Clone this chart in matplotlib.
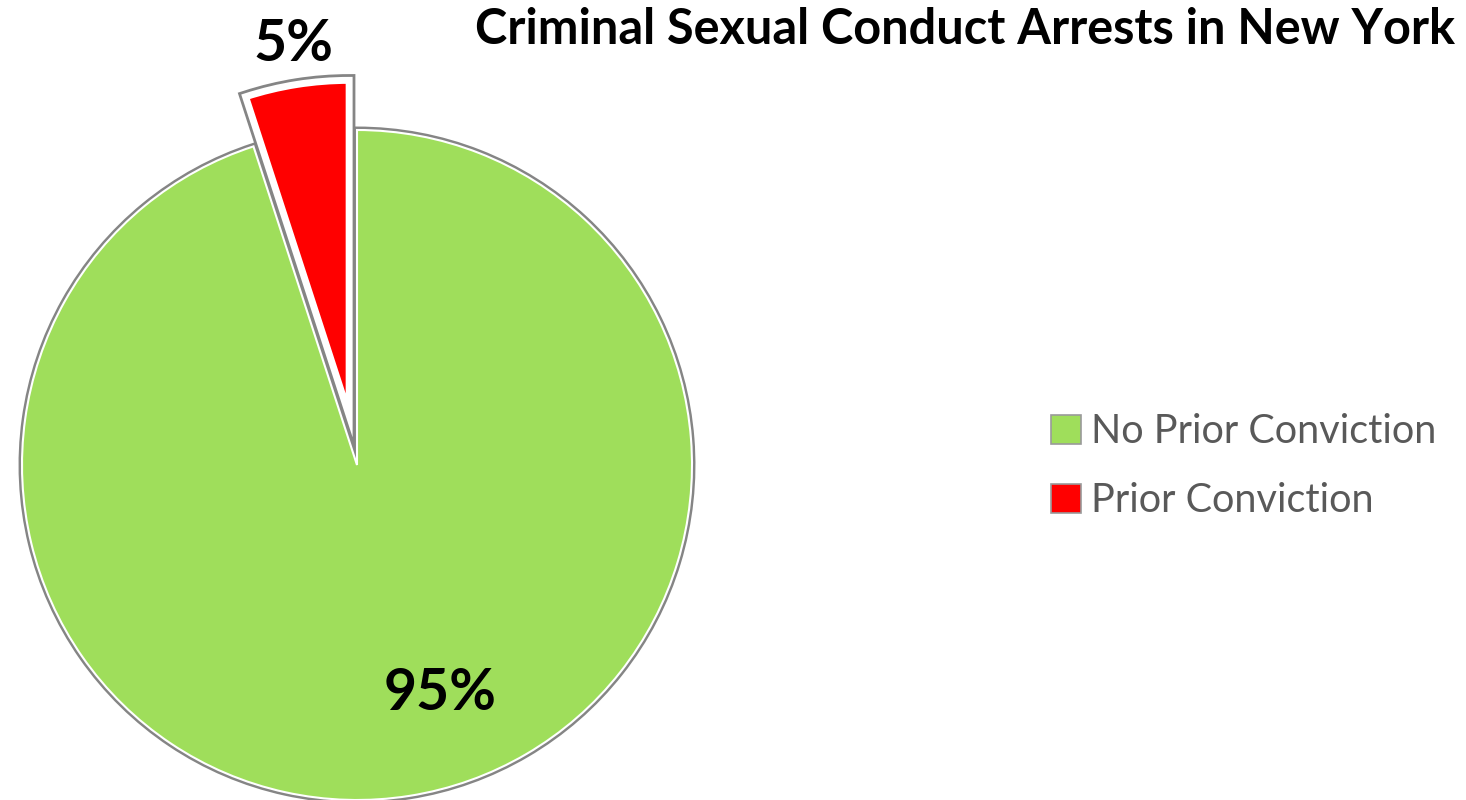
import matplotlib.pyplot as plt
from matplotlib.patches import Patch

categories = ["No Prior Conviction", "Prior Conviction"]
shares = [95, 5]
colors = ["#9FDE5B", "#FF0000"]
title = "Criminal Sexual Conduct Arrests in New York"

plt.rcParams["font.family"] = ["Lato", "DejaVu Sans"]

W, H = 1466, 800
fig = plt.figure(figsize=(W / 100, H / 100), dpi=100)
ax = fig.add_axes([0, 0, 1, 1])

explode = [0, 0.15]

# grey outline underneath, then the coloured wedges with lighter rims
outline, _ = ax.pie(shares, explode=explode, startangle=90, counterclock=False,
                    colors=colors,
                    wedgeprops=dict(edgecolor="#858585", joinstyle="miter"))
wedges, _ = ax.pie(shares, explode=explode, startangle=90, counterclock=False,
                   colors=colors,
                   wedgeprops=dict(edgecolor="white", joinstyle="miter"))
for w, lw in zip(outline, [5, 9]):
    w.set_linewidth(lw)
for w, lw in zip(wedges, [1.5, 5]):
    w.set_linewidth(lw)

# pie centre and radius in pixels, axes scaled so one unit = R pixels
cx, cy, R = 357, 465, 335
ax.set_xlim(-cx / R, (W - cx) / R)
ax.set_ylim(-(H - cy) / R, cy / R)
ax.set_aspect("equal")
ax.axis("off")

# percentage labels
ax.text(0.248, -0.681, f"{shares[0]}%", ha="center", va="center",
        fontsize=41, fontweight="bold", color="black")
ax.text(-0.191, 1.254, f"{shares[1]}%", ha="center", va="center",
        fontsize=41, fontweight="bold", color="black")

fig.text(1455 / W, 1 - 30 / H, title, ha="right", va="center",
         fontsize=35, fontweight="bold", color="black")

handles = [Patch(facecolor=c, edgecolor="#9a9a9a", linewidth=1.2) for c in colors]
fig.legend(handles, categories, loc="center left",
           bbox_to_anchor=(1051 / W, 1 - 466 / H), frameon=False,
           fontsize=28.5, labelcolor="#595959",
           handlelength=0.75, handleheight=0.75, handletextpad=0.25,
           labelspacing=0.8, borderpad=0, borderaxespad=0)

fig.savefig("out.png", dpi=100)
